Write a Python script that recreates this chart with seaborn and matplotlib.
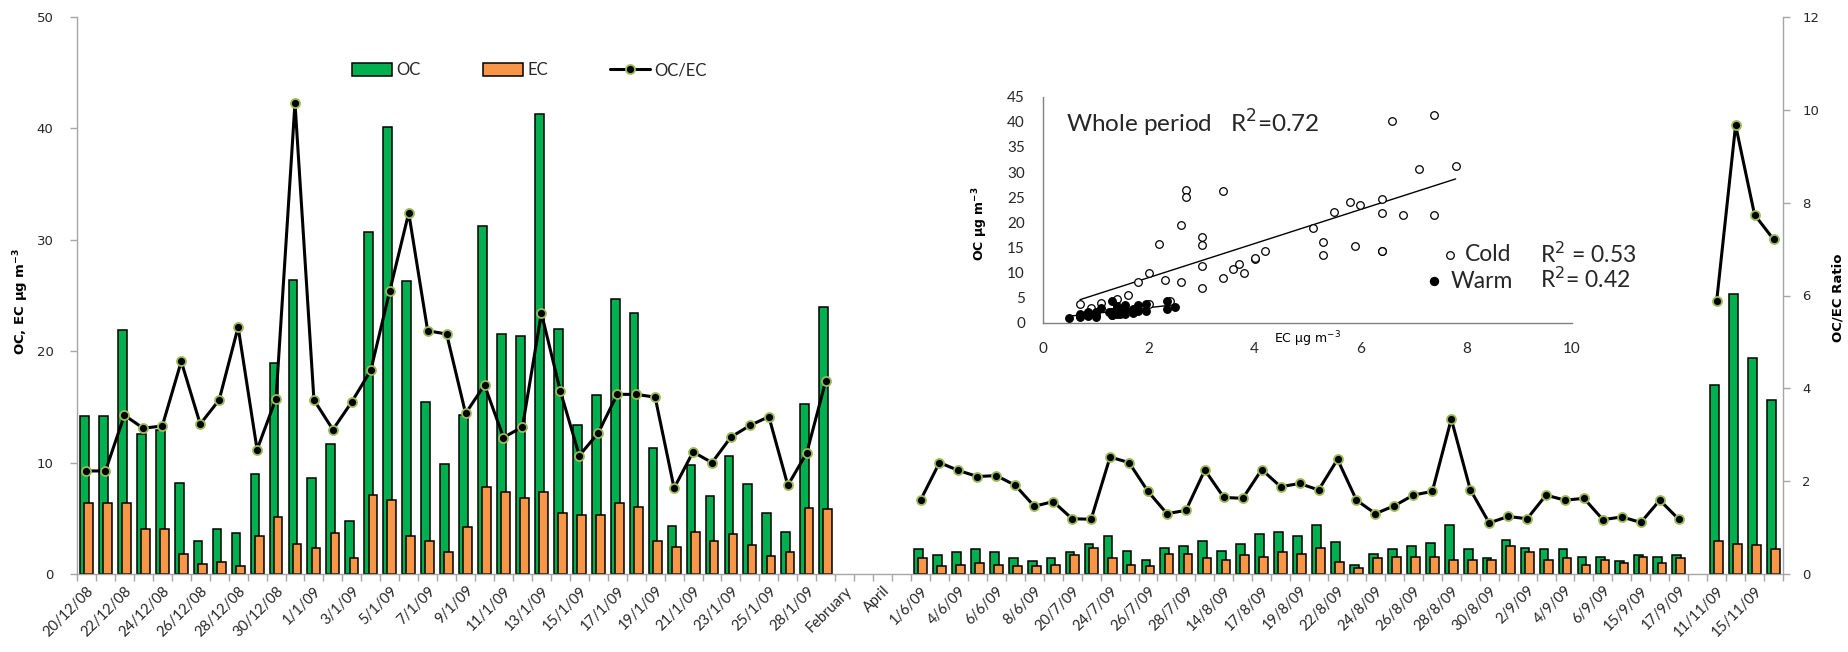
import matplotlib
matplotlib.use("Agg")
import matplotlib.pyplot as plt
from matplotlib.patches import Patch
from matplotlib.lines import Line2D
import numpy as np
import pandas as pd
import seaborn as sns

# ---------------- data ----------------
tick_labels = ["20/12/08", "22/12/08", "24/12/08", "26/12/08", "28/12/08", "30/12/08",
               "1/1/09", "3/1/09", "5/1/09", "7/1/09", "9/1/09", "11/1/09", "13/1/09",
               "15/1/09", "17/1/09", "19/1/09", "21/1/09", "23/1/09", "25/1/09", "28/1/09",
               "February", "April", "1/6/09", "4/6/09", "6/6/09", "8/6/09", "20/7/09",
               "24/7/09", "26/7/09", "28/7/09", "14/8/09", "17/8/09", "19/8/09", "22/8/09",
               "24/8/09", "26/8/09", "28/8/09", "30/8/09", "2/9/09", "4/9/09", "6/9/09",
               "15/9/09", "17/9/09", "11/11/09", "15/11/09"]

# cold period (20/12/08 - 28/1/09)
oc_cold = [14.2, 14.2, 21.9, 12.6, 12.9, 8.2, 3.0, 4.0, 3.7, 9.0,
           18.9, 26.4, 8.6, 11.7, 4.8, 30.7, 40.1, 26.3, 15.4, 9.9,
           14.3, 31.2, 21.5, 21.4, 41.3, 22.0, 13.4, 16.1, 24.7, 23.4,
           11.3, 4.3, 9.8, 7.0, 10.6, 8.1, 5.5, 3.8, 15.3, 24.0]
ec_cold = [6.4, 6.4, 6.4, 4.0, 4.0, 1.8, 0.9, 1.1, 0.7, 3.4,
           5.1, 2.7, 2.3, 3.7, 1.4, 7.1, 6.6, 3.4, 3.0, 2.0,
           4.2, 7.8, 7.4, 6.8, 7.4, 5.5, 5.3, 5.3, 6.4, 6.0,
           3.0, 2.4, 3.8, 3.0, 3.6, 2.6, 1.6, 2.0, 5.9, 5.8]
ratio_cold = [2.22, 2.22, 3.42, 3.14, 3.19, 4.58, 3.23, 3.75, 5.32, 2.68,
              3.78, 10.15, 3.75, 3.11, 3.71, 4.39, 6.10, 7.78, 5.24, 5.17,
              3.46, 4.07, 2.94, 3.17, 5.62, 3.94, 2.55, 3.04, 3.87, 3.87,
              3.81, 1.85, 2.63, 2.40, 2.95, 3.20, 3.39, 1.91, 2.61, 4.16]

# warm period (1/6/09 - 17/9/09)
oc_warm = [2.2, 1.7, 1.95, 2.2, 1.95, 1.4, 1.15, 1.4, 1.95, 2.65,
           3.4, 2.1, 1.3, 2.35, 2.5, 3.0, 2.1, 2.65, 3.6, 3.75,
           3.45, 4.4, 2.9, 0.85, 1.8, 2.2, 2.5, 2.75, 4.4, 2.2,
           1.45, 3.05, 2.35, 2.2, 2.2, 1.55, 1.55, 1.15, 1.7, 1.55, 1.7]
ec_warm = [1.4, 0.7, 0.85, 1.0, 0.85, 0.7, 0.7, 0.85, 1.7, 2.35,
           1.4, 0.85, 0.7, 1.8, 1.8, 1.4, 1.25, 1.7, 1.55, 1.95,
           1.8, 2.35, 1.1, 0.5, 1.45, 1.55, 1.55, 1.55, 1.3, 1.3,
           1.3, 2.5, 1.95, 1.3, 1.45, 0.85, 1.3, 1.0, 1.55, 1.0, 1.4]
ratio_warm = [1.59, 2.40, 2.23, 2.10, 2.12, 1.91, 1.46, 1.56, 1.19, 1.18,
              2.52, 2.40, 1.78, 1.30, 1.37, 2.24, 1.65, 1.63, 2.25, 1.88,
              1.95, 1.81, 2.47, 1.59, 1.30, 1.47, 1.70, 1.78, 3.34, 1.82,
              1.10, 1.24, 1.19, 1.70, 1.59, 1.63, 1.17, 1.23, 1.11, 1.59, 1.18]

# November (cold)
oc_nov = [17.0, 25.1, 19.4, 15.6]
ec_nov = [3.0, 2.7, 2.6, 2.2]
ratio_nov = [5.88, 9.67, 7.74, 7.21]

# ---------------- style ----------------
GREEN = "#00B050"
ORANGE = "#F79646"
GRID = "#A6A6A6"
TXT = "#262626"

sns.set_theme(style="white")
plt.rcParams["font.family"] = ["DejaVu Sans"]
plt.rcParams["mathtext.fontset"] = "dejavusans"

fig = plt.figure(figsize=(18.49, 6.52), dpi=100)
ax = fig.add_axes([77 / 1849, 78 / 652, 1706 / 1849, 557 / 652])

# category positions (empty categories for February / April gap and October gap)
pos_cold = np.arange(len(oc_cold))
pos_warm = np.arange(len(oc_warm)) + len(oc_cold) + 4
pos_nov = np.arange(len(oc_nov)) + pos_warm[-1] + 2
pos = np.concatenate([pos_cold, pos_warm, pos_nov]).astype(float)
oc_all = np.array(oc_cold + oc_warm + oc_nov)
ec_all = np.array(ec_cold + ec_warm + ec_nov)
ratio_all = np.array(ratio_cold + ratio_warm + ratio_nov)
n_cat = int(pos[-1]) + 1

bw = 0.46
off = 0.11
df_oc = pd.DataFrame({"x": pos - off, "v": oc_all})
df_ec = pd.DataFrame({"x": pos + off, "v": ec_all})
sns.barplot(data=df_oc, x="x", y="v", native_scale=True, orient="x", width=bw,
            color=GREEN, saturation=1, edgecolor="black", linewidth=1.1,
            errorbar=None, ax=ax)
sns.barplot(data=df_ec, x="x", y="v", native_scale=True, orient="x", width=bw,
            color=ORANGE, saturation=1, edgecolor="black", linewidth=1.1,
            errorbar=None, ax=ax)

ax.set_xlim(-0.5, n_cat - 0.5)
ax.set_ylim(0, 50)
ax.set_xlabel("")
ax.set_ylabel("")
ax.set_yticks(range(0, 51, 10))
ax.set_xticks(np.arange(0, n_cat, 2))
ax.set_xticklabels(tick_labels, rotation=45, ha="right", rotation_mode="anchor",
                   fontsize=10.5, family="Lato", color=TXT)
ax.set_xticks(np.arange(-0.5, n_cat, 1), minor=True)
ax.tick_params(axis="x", which="major", bottom=True, length=0, pad=7)
ax.tick_params(axis="x", which="minor", bottom=True, length=5, width=1, color=GRID,
               direction="out")
ax.tick_params(axis="y", left=True, length=5, width=1, color=GRID, direction="out",
               labelsize=9.5, labelcolor=TXT, pad=12)
for s in ["top", "right"]:
    ax.spines[s].set_visible(False)
for s in ["left", "bottom"]:
    ax.spines[s].set_color(GRID)
    ax.spines[s].set_linewidth(1)

# ratio line on secondary axis
ax2 = ax.twinx()
seg = ["cold"] * len(ratio_cold) + ["warm"] * len(ratio_warm) + ["nov"] * len(ratio_nov)
df_r = pd.DataFrame({"x": pos, "r": ratio_all, "seg": seg})
sns.lineplot(data=df_r, x="x", y="r", units="seg", estimator=None, color="black",
             lw=2.2, marker="o", markersize=6.5, markerfacecolor="black",
             markeredgecolor="#9BBB59", markeredgewidth=1.3, legend=False, ax=ax2)
ax2.set_ylim(0, 12)
ax2.set_xlim(-0.5, n_cat - 0.5)
ax2.set_yticks(range(0, 13, 2))
ax2.set_ylabel("")
ax2.set_xlabel("")
ax2.tick_params(axis="y", right=True, length=5, width=1, color=GRID, direction="out",
                labelsize=9.5, labelcolor=TXT, pad=9)
for s in ["top", "left", "bottom"]:
    ax2.spines[s].set_visible(False)
ax2.spines["right"].set_color(GRID)
ax2.spines["right"].set_linewidth(1)

# axis titles
fig.text(21 / 1849, 0.537, "OC, EC µg m$^{\\mathbf{-3}}$", rotation=90, ha="center",
         va="center", fontsize=9.5, fontweight="bold", color="black")
fig.text(1838 / 1849, 0.544, "OC/EC Ratio", rotation=90, ha="center", va="center",
         fontsize=9.5, fontweight="bold", color="black")

# legend
handles = [Patch(facecolor=GREEN, edgecolor="black", linewidth=1.1),
           Patch(facecolor=ORANGE, edgecolor="black", linewidth=1.1),
           Line2D([0], [0], color="black", lw=2.2, marker="o", markersize=6.5,
                  markerfacecolor="black", markeredgecolor="#9BBB59", markeredgewidth=1.3)]
fig.legend(handles, ["OC", "EC", "OC/EC"], loc="center left",
           bbox_to_anchor=(352 / 1849, 1 - 70 / 652), ncol=3, frameon=False,
           prop={"family": "Lato", "size": 12}, handlelength=2.4, handleheight=0.8,
           handletextpad=0.25, columnspacing=3.75, borderpad=0, borderaxespad=0)

# ---------------- inset scatter ----------------
axi = fig.add_axes([1043 / 1849, 1 - 322.7 / 652, 529 / 1849, 226 / 652])
axi.set_facecolor("white")
ec_c = np.array(ec_cold + ec_nov)
oc_c = np.array(oc_cold + oc_nov)
ec_w = np.array(ec_warm)
oc_w = np.array(oc_warm)
sns.regplot(x=ec_c, y=oc_c, scatter=False, ci=None, truncate=True, color="black",
            line_kws={"lw": 1.0}, ax=axi)
sns.regplot(x=ec_w, y=oc_w, scatter=False, ci=None, truncate=True, color="black",
            line_kws={"lw": 1.0}, ax=axi)
sns.scatterplot(x=ec_c, y=oc_c, color="white", edgecolor="black", linewidth=0.9,
                s=30, ax=axi, zorder=3)
sns.scatterplot(x=ec_w, y=oc_w, color="black", edgecolor="black", linewidth=0.9,
                s=30, ax=axi, zorder=3)
axi.set_xlim(0, 10)
axi.set_ylim(0, 45)
axi.set_xticks(range(0, 11, 2))
axi.set_yticks(range(0, 46, 5))
axi.tick_params(axis="both", length=0, labelsize=11, labelcolor=TXT)
axi.tick_params(axis="x", pad=14)
axi.tick_params(axis="y", pad=13)
for lab in axi.get_xticklabels() + axi.get_yticklabels():
    lab.set_family("Lato")
for s in ["top", "right"]:
    axi.spines[s].set_visible(False)
for s in ["left", "bottom"]:
    axi.spines[s].set_color("#808080")
    axi.spines[s].set_linewidth(1)
axi.set_xlabel("")
axi.set_ylabel("")
axi.text(5.0, -0.075, "EC µg m$^{-3}$", transform=axi.get_xaxis_transform(),
         ha="center", va="center", fontsize=9, color="black")
axi.text(-0.119, 0.44, "OC µg m$^{\\mathbf{-3}}$", transform=axi.transAxes, rotation=90,
         ha="center", va="center", fontsize=9, fontweight="bold", color="black")
axi.text(0.44, 39.7, "Whole period   R$^2$=0.72", ha="left", va="center",
         fontsize=17.5, family="Lato", color=TXT)
axi.scatter([7.69], [13.5], s=30, facecolor="white", edgecolor="black", linewidth=0.9,
            clip_on=False, zorder=4)
axi.scatter([7.39], [8.3], s=34, facecolor="black", edgecolor="black", linewidth=0.9,
            clip_on=False, zorder=4)
axi.text(7.98, 13.5, "Cold", ha="left", va="center", fontsize=16.5, family="Lato",
         color=TXT, clip_on=False)
axi.text(7.71, 8.3, "Warm", ha="left", va="center", fontsize=16.5, family="Lato",
         color=TXT, clip_on=False)
axi.text(9.4, 13.7, "R$^2$ = 0.53", ha="left", va="center", fontsize=16.5, family="Lato",
         color=TXT, clip_on=False)
axi.text(9.4, 8.7, "R$^2$= 0.42", ha="left", va="center", fontsize=16.5, family="Lato",
         color=TXT, clip_on=False)

fig.savefig("out.png", dpi=100)
